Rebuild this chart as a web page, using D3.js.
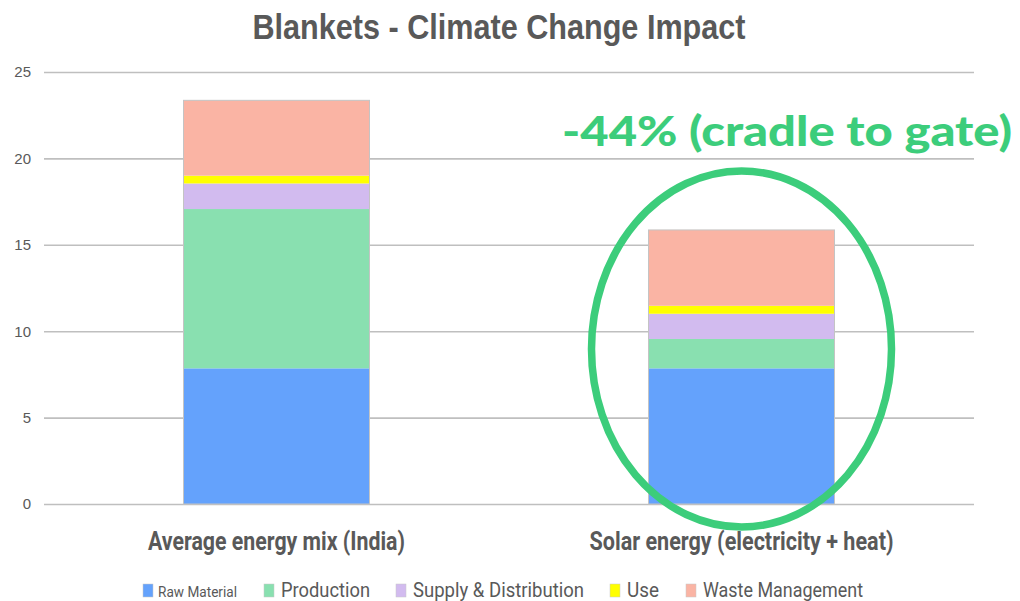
<!DOCTYPE html>
<html>
<head>
<meta charset="utf-8">
<script src="https://cdn.jsdelivr.net/npm/d3@7"></script>
<style>
  body { margin: 0; background: #fff; }
  svg { display: block; }
</style>
</head>
<body>
<div id="chart"></div>
<script>
const width = 1020
const height = 601
const margin = { top: 72, right: 46, bottom: 97, left: 44 }

// data
const categories = ["Average energy mix (India)", "Solar energy (electricity + heat)"]
const seriesNames = ["Raw Material", "Production", "Supply & Distribution", "Use", "Waste Management"]
const rawMaterial = [7.85, 7.85]
const production = [9.22, 1.70]
const supplyDistribution = [1.48, 1.46]
const use = [0.45, 0.46]
const wasteManagement = [4.36, 4.39]
const yTicks = [0, 5, 10, 15, 20, 25]
const colors = ["#64a2fc", "#89e0b0", "#d2bbef", "#ffff00", "#fab4a4"]

const table = categories.map((c, i) => ({
    category: c,
    "Raw Material": rawMaterial[i],
    "Production": production[i],
    "Supply & Distribution": supplyDistribution[i],
    "Use": use[i],
    "Waste Management": wasteManagement[i],
}))

const svg = d3.select("div#chart").append("svg").attr("width", width).attr("height", height)

const innerW = width - margin.left - margin.right
const innerH = height - margin.top - margin.bottom

const x = d3.scaleBand().domain(categories).range([0, innerW]).paddingInner(0.6).paddingOuter(0.3)
const y = d3.scaleLinear().domain([0, 25]).range([innerH, 0])

const g = svg.append("g").attr("transform", `translate(${margin.left}, ${margin.top})`)

// gridlines + y labels
const yAxis = d3.axisLeft(y).tickValues(yTicks).tickSize(-innerW).tickPadding(13)
g.append("g").attr("class", "yAxisGroup").call(yAxis)
    .call(ax => ax.select(".domain").remove())
    .call(ax => ax.selectAll("line").attr("stroke", "#bfbfbf").attr("stroke-width", 1.6))
    .call(ax => ax.selectAll("text").attr("fill", "#595959").attr("font-size", 15)
        .attr("font-family", "Liberation Sans, Arial, sans-serif"))

// stacked bars
const stack = d3.stack().keys(seriesNames)
const layers = stack(table)

g.append("g").selectAll("g").data(layers).join("g")
    .attr("fill", (d, i) => colors[i])
    .selectAll("rect").data(d => d).join("rect")
    .attr("x", d => x(d.data.category))
    .attr("y", d => y(d[1]))
    .attr("width", x.bandwidth())
    .attr("height", d => y(d[0]) - y(d[1]))

// thin outline around each stack
g.append("g").selectAll("rect").data(layers[layers.length - 1]).join("rect")
    .attr("x", d => x(d.data.category))
    .attr("y", d => y(d[1]))
    .attr("width", x.bandwidth())
    .attr("height", d => y(0) - y(d[1]))
    .attr("fill", "none")
    .attr("stroke", "#c4c4c4")
    .attr("stroke-width", 1)

// category labels
const labelWidths = [257, 304]
g.append("g").selectAll("text").data(categories).join("text")
    .attr("x", d => x(d) + x.bandwidth() / 2)
    .attr("y", innerH + 46)
    .attr("text-anchor", "middle")
    .attr("fill", "#595959")
    .attr("font-size", 25)
    .attr("font-weight", "bold")
    .attr("font-family", "Liberation Sans Narrow, Roboto, sans-serif")
    .attr("textLength", (d, i) => labelWidths[i])
    .attr("lengthAdjust", "spacingAndGlyphs")
    .text(d => d)

// highlight ellipse around second bar
const cx = x(categories[1]) + x.bandwidth() / 2
svg.append("ellipse")
    .attr("cx", margin.left + cx)
    .attr("cy", 349)
    .attr("rx", 150)
    .attr("ry", 178)
    .attr("fill", "none")
    .attr("stroke", "#3ccd7b")
    .attr("stroke-width", 7.5)

// title
svg.append("text")
    .attr("x", 499).attr("y", 39)
    .attr("text-anchor", "middle")
    .attr("fill", "#595959")
    .attr("font-size", 35)
    .attr("font-weight", "bold")
    .attr("font-family", "Liberation Sans, Arial, sans-serif")
    .attr("textLength", 493)
    .attr("lengthAdjust", "spacingAndGlyphs")
    .text("Blankets - Climate Change Impact")

// annotation
svg.append("text")
    .attr("x", 562).attr("y", 146)
    .attr("fill", "#3ccd7b")
    .attr("font-size", 41)
    .attr("font-weight", 900)
    .attr("font-family", "Lato, Inter, sans-serif")
    .attr("textLength", 450)
    .attr("lengthAdjust", "spacingAndGlyphs")
    .text("-44% (cradle to gate)")

// legend
const legendX = [143, 264, 396, 610, 686]
const legendW = [79, 89, 171, 32, 160]
const legendSize = [15, 21, 21, 21, 21]
const legend = svg.append("g").selectAll("g").data(seriesNames).join("g")
    .attr("transform", (d, i) => `translate(${legendX[i]}, 584)`)
legend.append("rect")
    .attr("width", 10).attr("height", 13)
    .attr("fill", (d, i) => colors[i])
    .attr("stroke", "#c8c8c8").attr("stroke-width", 0.5)
legend.append("text")
    .attr("x", (d, i) => i === 0 ? 15 : 17)
    .attr("y", 13)
    .attr("fill", "#595959")
    .attr("font-size", (d, i) => legendSize[i])
    .attr("font-family", "Liberation Sans Narrow, Roboto, sans-serif")
    .attr("textLength", (d, i) => legendW[i])
    .attr("lengthAdjust", "spacingAndGlyphs")
    .text(d => d)
</script>
</body>
</html>
